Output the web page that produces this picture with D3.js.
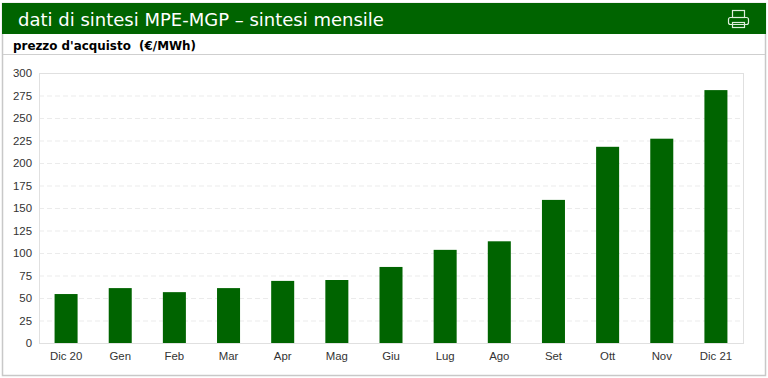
<!DOCTYPE html>
<html>
<head>
<meta charset="utf-8">
<script src="https://cdn.jsdelivr.net/npm/d3@7"></script>
<style>
html, body { margin: 0; padding: 0; background: #fff; }
svg { display: block; }
</style>
</head>
<body>
<svg id="chart" width="768" height="378"></svg>
<script>
let months = ["Dic 20","Gen","Feb","Mar","Apr","Mag","Giu","Lug","Ago","Set","Ott","Nov","Dic 21"];
let prices = [54.4,61,56.5,61,69,70,84.5,103.5,113,159,218,227,281];
let yTicks = [0,25,50,75,100,125,150,175,200,225,250,275,300];
let title = "dati di sintesi MPE-MGP – sintesi mensile";
let subtitle = "prezzo d'acquisto  (€/MWh)";

let green = "#006400";
let svg = d3.select("#chart");

// page frame and header
svg.append("rect").attr("x", 2.5).attr("y", 3.5).attr("width", 763).attr("height", 372)
  .attr("fill", "#fff").attr("stroke", "#c8c8c8").attr("stroke-width", 1.5);
svg.append("rect").attr("x", 2).attr("y", 3).attr("width", 764).attr("height", 31).attr("fill", green);
svg.append("line").attr("x1", 3).attr("x2", 765).attr("y1", 54.5).attr("y2", 54.5).attr("stroke", "#cfcfcf");

svg.append("text").attr("x", 18).attr("y", 26).attr("fill", "#fff")
  .style("font", "18px 'DejaVu Sans'").text(title);
svg.append("text").attr("x", 13).attr("y", 50).attr("fill", "#000").attr("xml:space", "preserve")
  .style("font", "bold 11.9px 'DejaVu Sans'").text(subtitle);

// printer icon
let icon = svg.append("g").attr("fill", "none").attr("stroke", "#dfeedd").attr("stroke-width", 1.2);
icon.append("rect").attr("x", 732.5).attr("y", 10.5).attr("width", 12).attr("height", 7);
icon.append("rect").attr("x", 728.5).attr("y", 17.5).attr("width", 20).attr("height", 7).attr("rx", 2);
icon.append("rect").attr("x", 732.5).attr("y", 22.5).attr("width", 12).attr("height", 5);

// chart area
let plot = {left: 39, right: 743, top: 73, bottom: 343};

let x = d3.scaleBand().domain(months).range([plot.left, plot.right]).paddingInner(0.575).paddingOuter(0.2875);
let y = d3.scaleLinear().domain([0, 300]).range([plot.bottom, plot.top]);

svg.append("g").selectAll("line")
  .data(yTicks.slice(1, -1))
  .enter()
  .append("line")
  .attr("x1", plot.left).attr("x2", plot.right)
  .attr("y1", d => y(d) + 0.5).attr("y2", d => y(d) + 0.5)
  .attr("stroke", "#ebebeb").attr("stroke-dasharray", "5,3");

svg.append("rect").attr("x", plot.left + 0.5).attr("y", plot.top + 0.5)
  .attr("width", plot.right - plot.left).attr("height", plot.bottom - plot.top)
  .attr("fill", "none").attr("stroke", "#e0e0e0");

svg.append("g").selectAll("rect")
  .data(prices)
  .enter()
  .append("rect")
  .attr("x", (d, i) => x(months[i]))
  .attr("y", d => y(d))
  .attr("width", x.bandwidth())
  .attr("height", d => y(0) - y(d))
  .attr("fill", green);

let yAxis = svg.append("g").attr("transform", "translate(" + plot.left + ",0)")
  .call(d3.axisLeft(y).tickValues(yTicks).tickSize(0).tickPadding(7));
let xAxis = svg.append("g").attr("transform", "translate(0," + plot.bottom + ")")
  .call(d3.axisBottom(x).tickSize(0).tickPadding(9));

yAxis.select(".domain").remove();
xAxis.select(".domain").remove();
svg.selectAll(".tick text").attr("fill", "#333").style("font", "11.4px 'Liberation Sans'");
</script>
</body>
</html>
